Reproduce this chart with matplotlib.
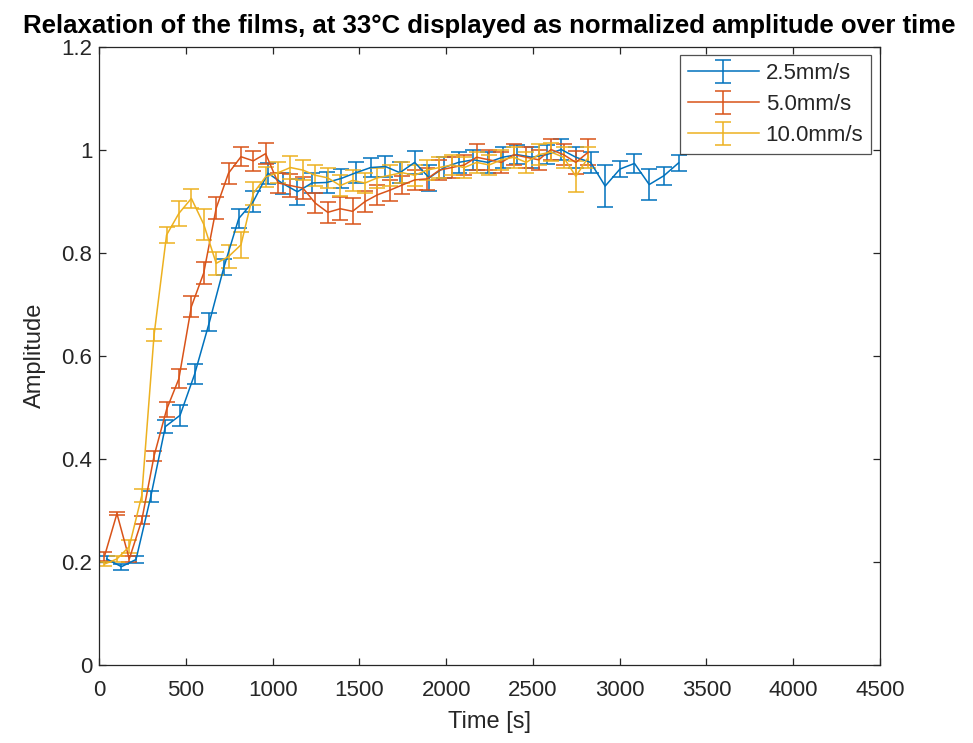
import matplotlib
matplotlib.use("Agg")
import matplotlib.pyplot as plt

plt.rcParams['font.family'] = ['Liberation Sans', 'DejaVu Sans']

# Sample times [s]
t_25 = [43, 128, 212, 297, 381, 466, 550, 635, 719, 804,
        888, 973, 1057, 1142, 1226, 1311, 1396, 1480, 1565, 1649,
        1733, 1818, 1902, 1987, 2071, 2156, 2240, 2325, 2409, 2494,
        2578, 2663, 2747, 2832, 2916, 3001, 3085, 3170, 3254, 3339]
t_50 = [30, 102, 173, 245, 316, 388, 459, 531, 602, 674,
        745, 817, 888, 959, 1031, 1102, 1174, 1245, 1317, 1389,
        1460, 1532, 1603, 1675, 1746, 1818, 1889, 1961, 2032, 2104,
        2175, 2247, 2318, 2390, 2461, 2533, 2604, 2676, 2747, 2819]
t_100 = [30, 102, 173, 245, 316, 388, 459, 531, 602, 674,
         745, 817, 888, 959, 1031, 1102, 1174, 1245, 1317, 1389,
         1460, 1532, 1603, 1675, 1746, 1818, 1889, 1961, 2032, 2104,
         2175, 2247, 2318, 2390, 2461, 2533, 2604, 2676, 2747, 2819]

# Normalized amplitude
a_25 = [0.205, 0.190, 0.204, 0.326, 0.462, 0.484, 0.564, 0.665, 0.772, 0.866,
        0.899, 0.954, 0.934, 0.918, 0.935, 0.936, 0.944, 0.955, 0.965, 0.967,
        0.955, 0.975, 0.945, 0.965, 0.975, 0.980, 0.975, 0.985, 0.990, 0.985,
        0.990, 1.000, 0.985, 0.975, 0.929, 0.962, 0.973, 0.932, 0.949, 0.974]
a_50 = [0.210, 0.293, 0.205, 0.280, 0.405, 0.495, 0.555, 0.695, 0.760, 0.886,
        0.954, 0.986, 0.978, 0.992, 0.935, 0.930, 0.925, 0.896, 0.878, 0.885,
        0.880, 0.899, 0.912, 0.921, 0.931, 0.941, 0.943, 0.960, 0.965, 0.970,
        0.985, 0.980, 0.975, 0.990, 0.985, 0.980, 1.000, 0.990, 0.975, 0.995]
a_100 = [0.195, 0.205, 0.229, 0.328, 0.640, 0.834, 0.876, 0.905, 0.855, 0.779,
         0.792, 0.815, 0.915, 0.947, 0.955, 0.965, 0.960, 0.950, 0.945, 0.930,
         0.940, 0.935, 0.945, 0.950, 0.955, 0.950, 0.960, 0.965, 0.970, 0.965,
         0.975, 0.970, 0.980, 0.985, 0.975, 0.990, 0.995, 0.985, 0.948, 0.985]

# Error (half-width of the bars)
e_25 = [0.006, 0.006, 0.006, 0.010, 0.012, 0.020, 0.020, 0.018, 0.015, 0.018,
        0.020, 0.020, 0.020, 0.025, 0.020, 0.020, 0.018, 0.020, 0.018, 0.020,
        0.020, 0.022, 0.025, 0.020, 0.020, 0.020, 0.020, 0.020, 0.018, 0.020,
        0.018, 0.020, 0.020, 0.020, 0.040, 0.016, 0.018, 0.030, 0.018, 0.015]
e_50 = [0.008, 0.003, 0.005, 0.008, 0.010, 0.015, 0.018, 0.020, 0.022, 0.021,
        0.020, 0.018, 0.020, 0.020, 0.020, 0.022, 0.022, 0.020, 0.020, 0.022,
        0.025, 0.020, 0.020, 0.020, 0.018, 0.020, 0.022, 0.020, 0.020, 0.020,
        0.025, 0.020, 0.020, 0.020, 0.020, 0.020, 0.020, 0.020, 0.022, 0.025]
e_100 = [0.004, 0.006, 0.012, 0.012, 0.012, 0.015, 0.025, 0.018, 0.030, 0.022,
         0.022, 0.025, 0.022, 0.020, 0.020, 0.022, 0.020, 0.020, 0.020, 0.020,
         0.020, 0.020, 0.020, 0.020, 0.020, 0.020, 0.020, 0.020, 0.020, 0.020,
         0.020, 0.020, 0.020, 0.020, 0.020, 0.020, 0.018, 0.020, 0.030, 0.020]

labels = ['2.5mm/s', '5.0mm/s', '10.0mm/s']
colors = ['#0072BD', '#D95319', '#EDB120']

x_ticks = [0, 500, 1000, 1500, 2000, 2500, 3000, 3500, 4000, 4500]
y_ticks = [0, 0.2, 0.4, 0.6, 0.8, 1.0, 1.2]
y_tick_labels = ['0', '0.2', '0.4', '0.6', '0.8', '1', '1.2']

fig = plt.figure(figsize=(9.73, 7.43), dpi=100)
ax = fig.add_axes([0.102, 0.1056, 0.8024, 0.8318])

series = [(t_25, a_25, e_25), (t_50, a_50, e_50), (t_100, a_100, e_100)]
for (t, a, e), lab, col in zip(series, labels, colors):
    ax.errorbar(t, a, yerr=e, color=col, lw=1.1, elinewidth=1.1,
                capsize=5.5, capthick=1.1, label=lab)

ax.set_xlim(0, 4500)
ax.set_ylim(0, 1.2)
ax.set_xticks(x_ticks)
ax.set_yticks(y_ticks)
ax.set_yticklabels(y_tick_labels)

text_col = '#262626'
for s in ax.spines.values():
    s.set_color(text_col)
    s.set_linewidth(0.9)
ax.tick_params(direction='in', length=5, width=0.9, colors=text_col,
               labelsize=16, top=True, right=True, pad=5)
ax.tick_params(axis='x', pad=11)

ax.set_xlabel('Time [s]', fontsize=17, color=text_col, labelpad=7)
ax.set_ylabel('Amplitude', fontsize=17, color=text_col, labelpad=11)
ax.set_title('Relaxation of the films, at 33\u00b0C displayed as normalized amplitude over time',
             fontsize=18.5, fontweight='bold', color='black', pad=10)

leg = ax.legend(loc='upper right', fontsize=16, frameon=True, fancybox=False,
                edgecolor=text_col, borderaxespad=0.4, handlelength=3.2,
                labelspacing=0.45, borderpad=0.35, handletextpad=0.3)
leg.get_frame().set_linewidth(0.9)
for txt in leg.get_texts():
    txt.set_color(text_col)

fig.savefig('out.png', dpi=100, facecolor='white')
